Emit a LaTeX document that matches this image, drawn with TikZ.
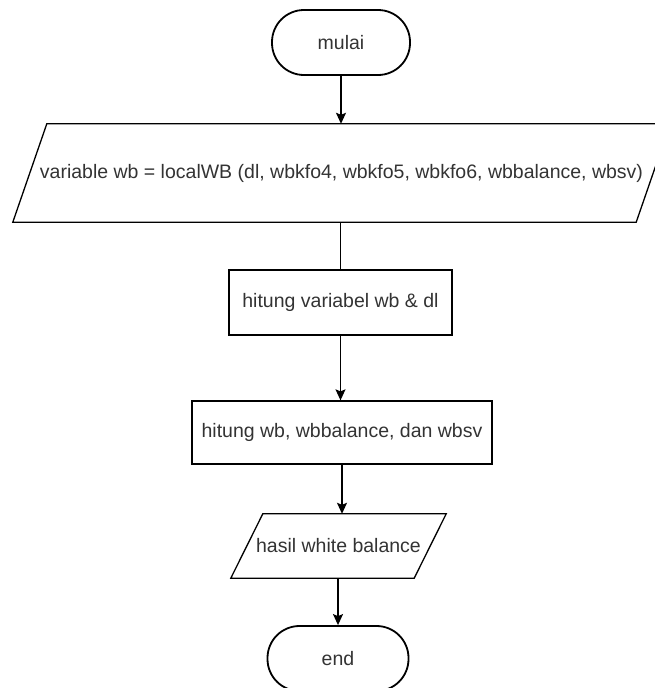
\documentclass[tikz,border=0pt]{standalone}
\usepackage{fontspec}
\setmainfont{Liberation Sans}
\usetikzlibrary{arrows.meta}
\definecolor{txt}{HTML}{333333}
\tikzset{
  base/.style={inner sep=0pt, font=\fontsize{19.5}{23}\selectfont, text=txt},
  terminal/.style={base, draw, line width=1.8pt, rounded corners=32pt,
    minimum height=65pt},
  process/.style={base, draw, line width=1.3pt},
  iobox/.style={base},
  outline/.style={line width=1.3pt, line join=miter},
  flow/.style={line width=1.3pt, -{Stealth[inset=2pt,length=11pt,width=10pt]}},
  link/.style={line width=1.3pt}
}
\begin{document}
\begin{tikzpicture}[x=1pt,y=-1pt]
\useasboundingbox (0,0) rectangle (655,688);
\clip (0,0) rectangle (655,688);

% start / end terminators
\node[terminal, minimum width=138pt] (start) at (341,42.5) {mulai};
\node[terminal, minimum width=141pt] (stop) at (338,658.5) {end};

% input: white balance call
\node[iobox, minimum width=657pt, minimum height=98pt] (in) at (341.5,173)
  {variable wb = localWB (dl, wbkfo4, wbkfo5, wbkfo6, wbbalance, wbsv)};
\draw[outline] ([xshift=34pt]in.north west) -- (in.north east)
  -- ([xshift=-34pt]in.south east) -- (in.south west) -- cycle;

% processing steps
\node[process, minimum width=223pt, minimum height=65pt] (calc) at (340.5,302.5)
  {hitung variabel wb \& dl};
\node[process, minimum width=300pt, minimum height=63pt] (bal) at (342,432.5)
  {hitung wb, wbbalance, dan wbsv};

% output
\node[iobox, minimum width=215pt, minimum height=64pt] (out) at (338.5,546)
  {hasil white balance};
\draw[outline] ([xshift=32pt]out.north west) -- (out.north east)
  -- ([xshift=-32pt]out.south east) -- (out.south west) -- cycle;

% connectors
\draw[flow] (start.south) -- (start.south |- in.north);
\draw[link] (in.south -| calc.north) -- (calc.north);
\draw[flow] (calc.south) -- (calc.south |- bal.north);
\draw[flow] (bal.south) -- (bal.south |- out.north);
\draw[flow] (out.south -| stop.north) -- (stop.north);
\end{tikzpicture}
\end{document}
